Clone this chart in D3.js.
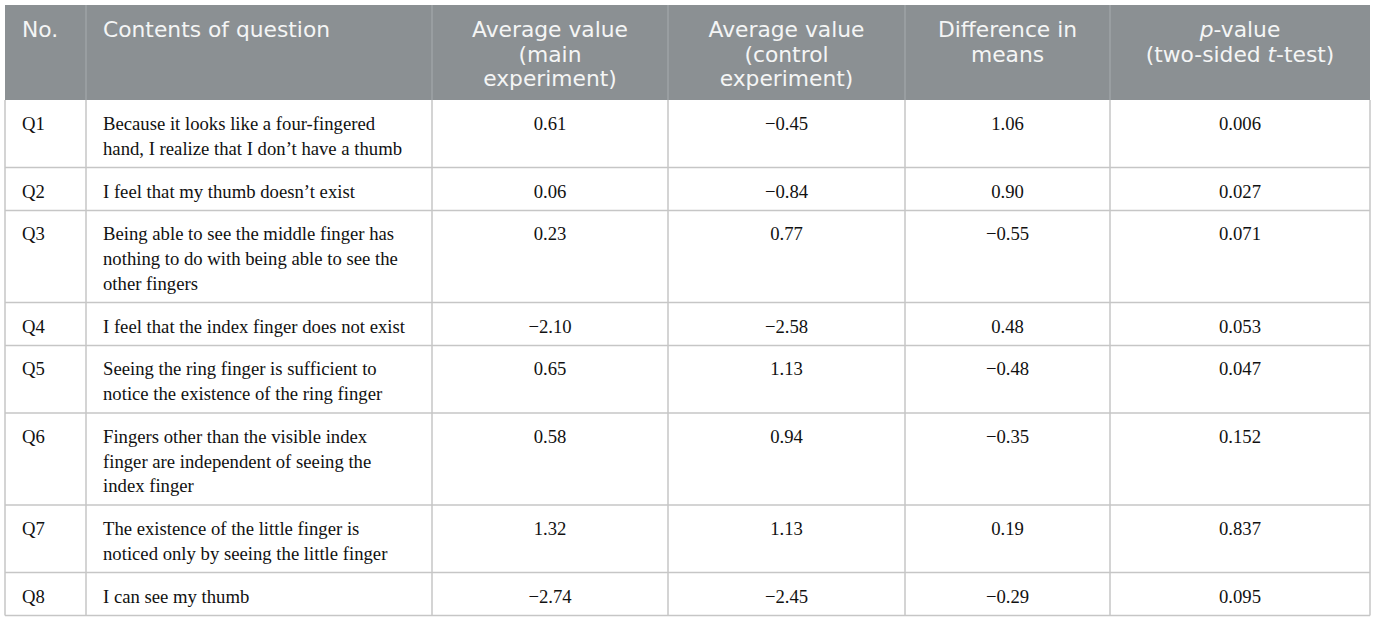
<!DOCTYPE html>
<html>
<head>
<meta charset="utf-8">
<script src="https://cdn.jsdelivr.net/npm/d3@7"></script>
<style>
  html, body { margin: 0; padding: 0; background: #fff; }
  svg { display: block; }
</style>
</head>
<body>
<div id="viz"></div>
<script>
// Table data, one array per column
const QUESTION_IDS = ["Q1", "Q2", "Q3", "Q4", "Q5", "Q6", "Q7", "Q8"];
const QUESTION_LINES = [
  ["Because it looks like a four-fingered", "hand, I realize that I don\u2019t have a thumb"],
  ["I feel that my thumb doesn\u2019t exist"],
  ["Being able to see the middle finger has", "nothing to do with being able to see the", "other fingers"],
  ["I feel that the index finger does not exist"],
  ["Seeing the ring finger is sufficient to", "notice the existence of the ring finger"],
  ["Fingers other than the visible index", "finger are independent of seeing the", "index finger"],
  ["The existence of the little finger is", "noticed only by seeing the little finger"],
  ["I can see my thumb"]
];
const MAIN_AVG = [0.61, 0.06, 0.23, -2.10, 0.65, 0.58, 1.32, -2.74];
const CONTROL_AVG = [-0.45, -0.84, 0.77, -2.58, 1.13, 0.94, 1.13, -2.45];
const DIFF_MEANS = [1.06, 0.90, -0.55, 0.48, -0.48, -0.35, 0.19, -0.29];
const P_VALUES = [0.006, 0.027, 0.071, 0.053, 0.047, 0.152, 0.837, 0.095];

// header lines: each line is a list of [text, italic] pieces
const HEADERS = [
  [[["No.", false]]],
  [[["Contents of question", false]]],
  [[["Average value", false]], [["(main", false]], [["experiment)", false]]],
  [[["Average value", false]], [["(control", false]], [["experiment)", false]]],
  [[["Difference in", false]], [["means", false]]],
  [[["p", true], ["-value", false]], [["(two-sided ", false], ["t", true], ["-test)", false]]]
];

const W = 1375, H = 621;
const COL_EDGES = [5, 86, 432, 668, 905, 1110, 1370];
const TOP = 5, HEAD_BOTTOM = 100;
const LINE_H = 24.6, ROW_PAD = 18.3, BASE_OFF = 30;
const HEAD_FILL = "#8b9093", HEAD_SEP = "#a3a8ab", GRID = "#c6c6c6";
const SANS = "'DejaVu Sans', 'Noto Sans', sans-serif";
const SERIF = "'Liberation Serif', 'DejaVu Serif', serif";

const fmt2 = d3.format(".2f");
const fmt3 = d3.format(".3f");

const svg = d3.select("#viz").append("svg")
  .attr("width", W).attr("height", H);

// row tops from cumulative line counts
const rowHeights = QUESTION_LINES.map(l => ROW_PAD + l.length * LINE_H);
const rowTops = [HEAD_BOTTOM];
rowHeights.forEach((h, i) => rowTops.push(rowTops[i] + h));

const y = d3.scaleOrdinal().domain(QUESTION_IDS).range(rowTops.slice(0, -1));
const colX = d3.scaleOrdinal().domain(d3.range(6)).range(COL_EDGES.slice(0, -1));
const colW = i => COL_EDGES[i + 1] - COL_EDGES[i];

// header background
svg.append("rect")
  .attr("x", COL_EDGES[0]).attr("y", TOP)
  .attr("width", COL_EDGES[6] - COL_EDGES[0]).attr("height", HEAD_BOTTOM - TOP)
  .attr("fill", HEAD_FILL);

svg.selectAll("line.hsep")
  .data(COL_EDGES.slice(1, -1))
  .join("line")
  .attr("class", "hsep")
  .attr("x1", d => d).attr("x2", d => d)
  .attr("y1", TOP).attr("y2", HEAD_BOTTOM)
  .attr("stroke", HEAD_SEP).attr("stroke-width", 1.2);

HEADERS.forEach((lines, ci) => {
  const left = ci < 2;
  const t = svg.append("text")
    .attr("font-family", SANS)
    .attr("font-size", 21.8)
    .attr("fill", "#f4f5f5")
    .attr("text-anchor", left ? "start" : "middle");
  lines.forEach((pieces, li) => {
    pieces.forEach((p, pi) => {
      const ts = t.append("tspan").text(p[0])
        .attr("font-style", p[1] ? "italic" : null);
      if (pi === 0) {
        ts.attr("x", left ? colX(ci) + 17 : colX(ci) + colW(ci) / 2)
          .attr("y", 37 + li * 24.5);
      }
    });
  });
});

// body grid
const body = svg.append("g");
body.selectAll("line.row")
  .data(rowTops.slice(1))
  .join("line")
  .attr("class", "row")
  .attr("x1", COL_EDGES[0]).attr("x2", COL_EDGES[6])
  .attr("y1", d => d).attr("y2", d => d)
  .attr("stroke", GRID).attr("stroke-width", 1.5);

body.selectAll("line.col")
  .data(COL_EDGES)
  .join("line")
  .attr("class", "col")
  .attr("x1", d => d).attr("x2", d => d)
  .attr("y1", HEAD_BOTTOM).attr("y2", rowTops[rowTops.length - 1])
  .attr("stroke", GRID).attr("stroke-width", 1.5);

// body cells
const cellText = (x, yy, txt, anchor) => body.append("text")
  .attr("x", x).attr("y", yy)
  .attr("font-family", SERIF)
  .attr("font-size", 18.7)
  .attr("fill", "#111")
  .attr("text-anchor", anchor)
  .text(txt);

QUESTION_IDS.forEach((id, i) => {
  const top = y(id) + BASE_OFF;
  cellText(colX(0) + 17, top, id, "start");
  QUESTION_LINES[i].forEach((ln, li) => cellText(colX(1) + 17, top + li * LINE_H, ln, "start"));
  const mid = c => colX(c) + colW(c) / 2;
  cellText(mid(2), top, fmt2(MAIN_AVG[i]), "middle");
  cellText(mid(3), top, fmt2(CONTROL_AVG[i]), "middle");
  cellText(mid(4), top, fmt2(DIFF_MEANS[i]), "middle");
  cellText(mid(5), top, fmt3(P_VALUES[i]), "middle");
});
</script>
</body>
</html>
